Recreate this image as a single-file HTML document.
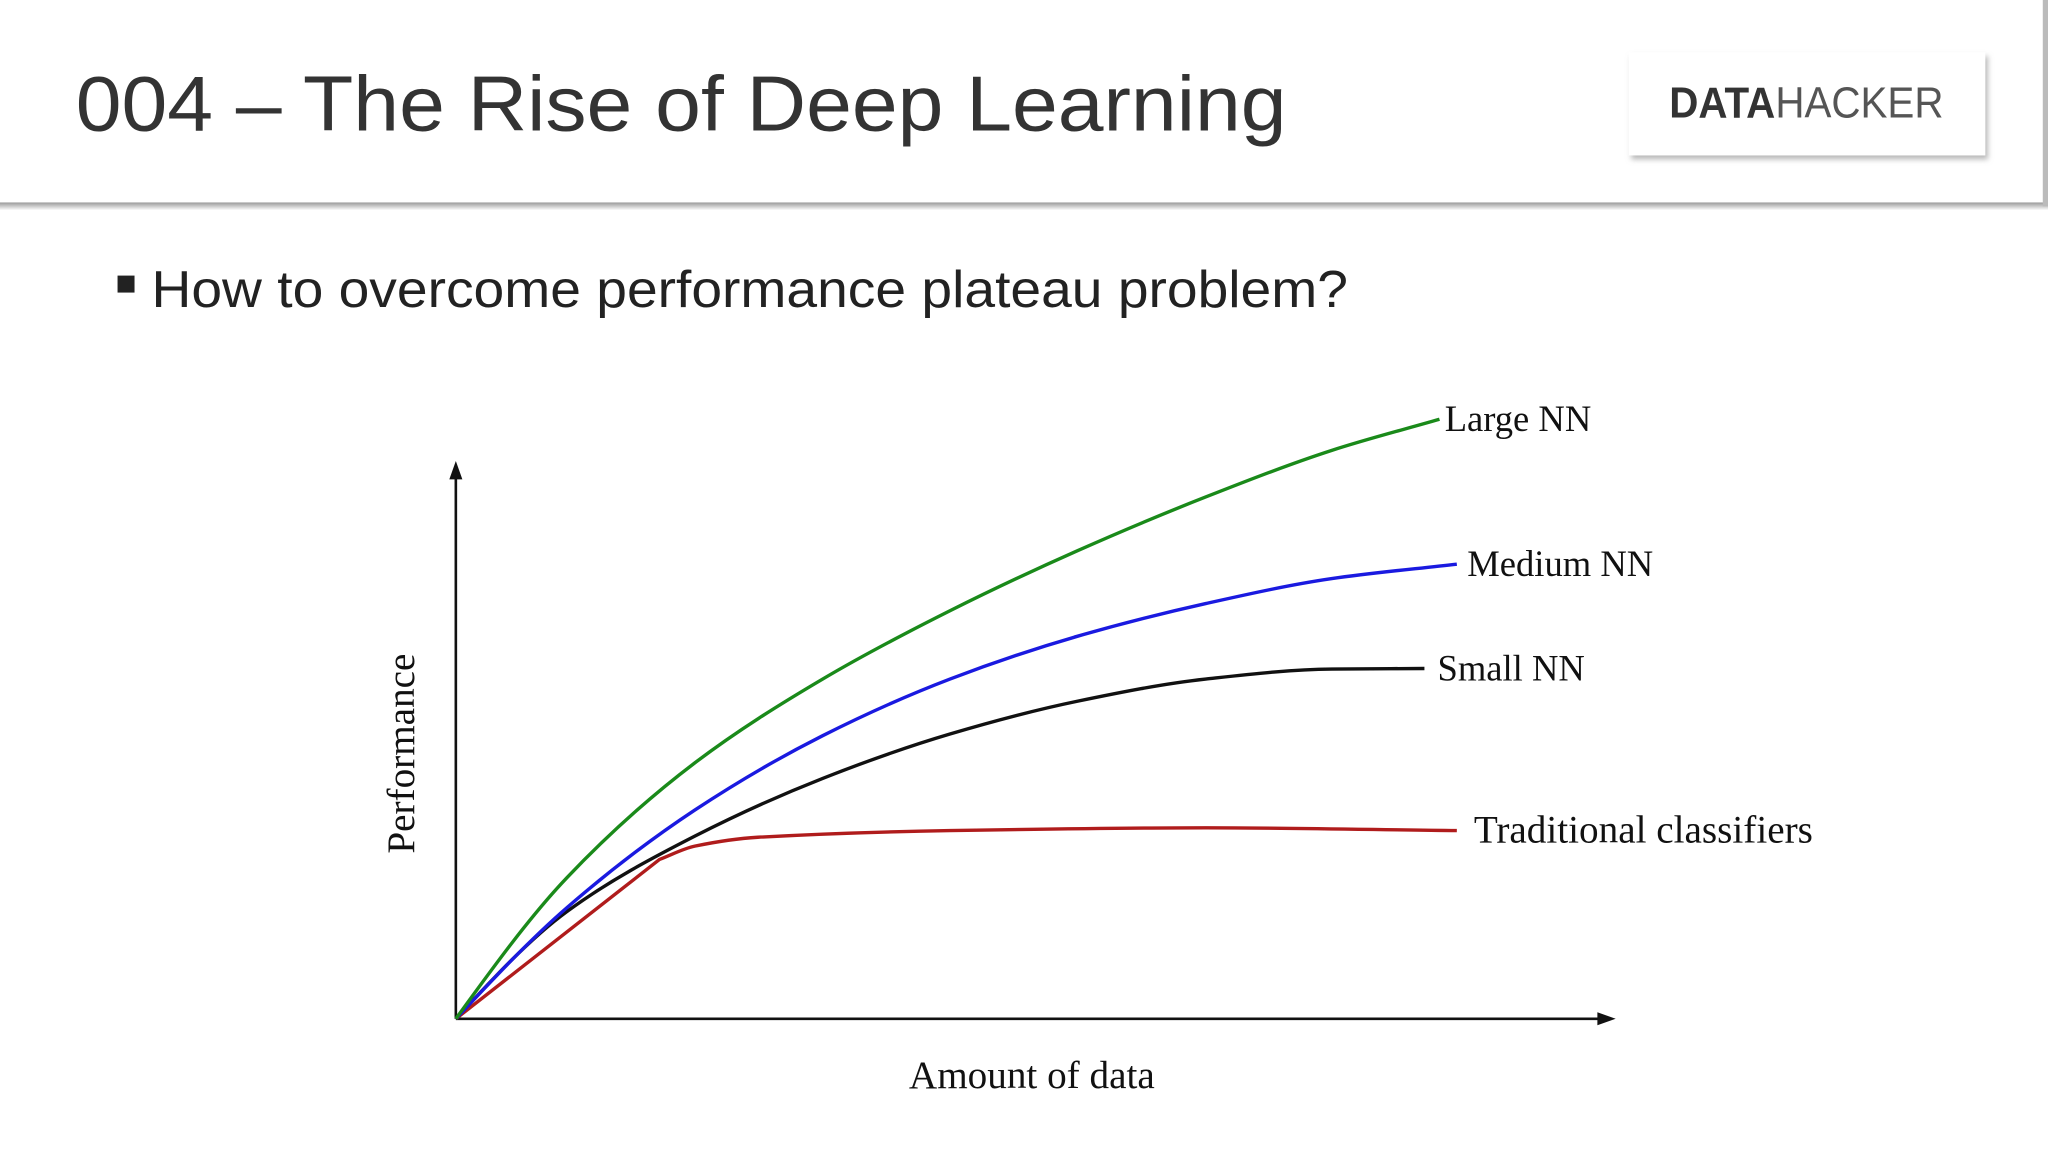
<!DOCTYPE html>
<html><head><meta charset="utf-8"><style>
html,body{margin:0;padding:0;background:#fff;}
svg{display:block;}
</style></head><body>
<svg id="chart" width="2048" height="1152" viewBox="0 0 1568 882" xmlns="http://www.w3.org/2000/svg">
<defs>
<linearGradient id="hs" x1="0" y1="0" x2="0" y2="1"><stop offset="0" stop-color="#999"/><stop offset="1" stop-color="#fff"/></linearGradient>
<filter id="sh" x="-10%" y="-10%" width="130%" height="140%"><feDropShadow dx="2" dy="3" stdDeviation="2" flood-color="#888" flood-opacity="0.6"/></filter>
</defs>
<rect x="0" y="0" width="1568" height="882" fill="#fff"/>
<rect x="0" y="155" width="1568" height="6" fill="url(#hs)"/>
<rect x="1564" y="0" width="4" height="158" fill="#bbb"/>
<text x="58" y="100" font-family="Liberation Sans, sans-serif" font-size="60" fill="#333" textLength="927" lengthAdjust="spacingAndGlyphs">004 – The Rise of Deep Learning</text>
<g>
<rect x="1247" y="40" width="273" height="79" fill="#fff" filter="url(#sh)"/>
<text x="1278" y="90" font-family="Liberation Sans, sans-serif" font-size="33" fill="#333" textLength="210" lengthAdjust="spacingAndGlyphs"><tspan font-weight="bold">DATA</tspan><tspan fill="#555">HACKER</tspan></text>
</g>
<rect x="90" y="211" width="13" height="13" fill="#222"/>
<text x="116" y="235" font-family="Liberation Sans, sans-serif" font-size="40" fill="#222" textLength="916" lengthAdjust="spacingAndGlyphs">How to overcome performance plateau problem?</text>
<g id="plot"></g>
</svg>
<script>
const seriesNames = ["Large NN","Medium NN","Small NN","Traditional classifiers"];
const largeX = [0,9.59,20.65,31.7,42.7,53.7,64.8,75.7,85.0];
const largeY = [0,25.4,46.1,61.2,73.5,84.3,94.0,102.4,108.0];
const mediumX = [0,9.59,20.65,31.7,42.7,53.7,64.8,75.7,86.5];
const mediumY = [0,20.0,37.6,51.0,61.2,68.9,74.8,79.3,81.9];
const smallX = [0,9.59,20.65,31.7,42.7,53.7,64.8,75.7,83.7];
const smallY = [0,19.3,32.9,43.3,51.3,57.2,61.2,63.0,63.1];
const tradX = [0,17.6,20.65,26.1,42.7,64.8,86.5];
const tradY = [0,28.7,31.1,32.7,33.9,34.4,33.9];

const NS="http://www.w3.org/2000/svg";
const x0=349,x1=1235,y0=780,y1=355;
const sx=v=>x0+v/100*(x1-x0);
const sy=v=>y0-v/100*(y0-y1);
const g=document.getElementById('plot');
function mk(t,a){const e=document.createElementNS(NS,t);for(const k in a)e.setAttribute(k,a[k]);g.appendChild(e);return e;}
function smooth(xs,ys,straightFirst){
  let X=xs.map(sx),Y=ys.map(sy);
  let d="M"+X[0]+","+Y[0];
  let s=0;
  if(straightFirst){d+=" L"+X[1]+","+Y[1];s=1;}
  X=X.slice(s);Y=Y.slice(s);
  const n=X.length;
  const del=[],m=[];
  for(let i=0;i<n-1;i++)del.push((Y[i+1]-Y[i])/(X[i+1]-X[i]));
  for(let i=1;i<n-1;i++){m[i]=(del[i-1]*del[i]<=0)?0:2/(1/del[i-1]+1/del[i]);}
  m[0]=straightFirst?del[0]:(1.5*del[0]-0.5*m[1]);
  m[n-1]=del[n-2];
  for(let i=0;i<n-1;i++){
    const h=X[i+1]-X[i];
    d+=" C"+(X[i]+h/3)+","+(Y[i]+m[i]*h/3)+" "+(X[i+1]-h/3)+","+(Y[i+1]-m[i+1]*h/3)+" "+X[i+1]+","+Y[i+1];
  }
  return d;
}
let e;
e=mk('line',{x1:x0,y1:y0,x2:x0,y2:y1+8,stroke:'#111','stroke-width':2});


e=mk('polygon',{points:`${x0-5},${y1+12} ${x0+5},${y1+12} ${x0},${y1-2}`,fill:'#111'});


e=mk('line',{x1:x0,y1:y0,x2:x1-8,y2:y0,stroke:'#111','stroke-width':2});


e=mk('polygon',{points:`${x1-12},${y0-5} ${x1-12},${y0+5} ${x1+2},${y0}`,fill:'#111'});



const defs=[[tradX,tradY,'#b01c1c','traditional-classifiers-line',true],[smallX,smallY,'#111','small-nn-line',false],[mediumX,mediumY,'#1a1ae0','medium-nn-line',false],[largeX,largeY,'#1a8a1a','large-nn-line',false]];
defs.forEach(s=>{
  const p=mk('path',{d:smooth(s[0],s[1],s[4]),fill:'none',stroke:s[2],'stroke-width':2.6,'stroke-linejoin':'round'});
  
  
});
const lab=[[largeX,largeY,"Large NN",4,28,'large-nn-label'],[mediumX,mediumY,"Medium NN",8,28,'medium-nn-label'],[smallX,smallY,"Small NN",10,28,'small-nn-label'],[tradX,tradY,"Traditional classifiers",13,30,'traditional-classifiers-label']];
lab.forEach(l=>{
  const n=l[0].length-1;
  const t=mk('text',{x:sx(l[0][n])+l[3],y:sy(l[1][n])+9,'font-family':'Liberation Serif, serif','font-size':l[4],fill:'#111'});
  t.textContent=l[2];
  
  
});
e=mk('text',{x:790,y:833,'text-anchor':'middle','font-family':'Liberation Serif, serif','font-size':30,fill:'#111'});
e.textContent="Amount of data";


e=mk('text',{x:0,y:0,'text-anchor':'middle','font-family':'Liberation Serif, serif','font-size':30,fill:'#111',transform:'translate(317,577) rotate(-90)'});
e.textContent="Performance";


</script>
</body></html>
